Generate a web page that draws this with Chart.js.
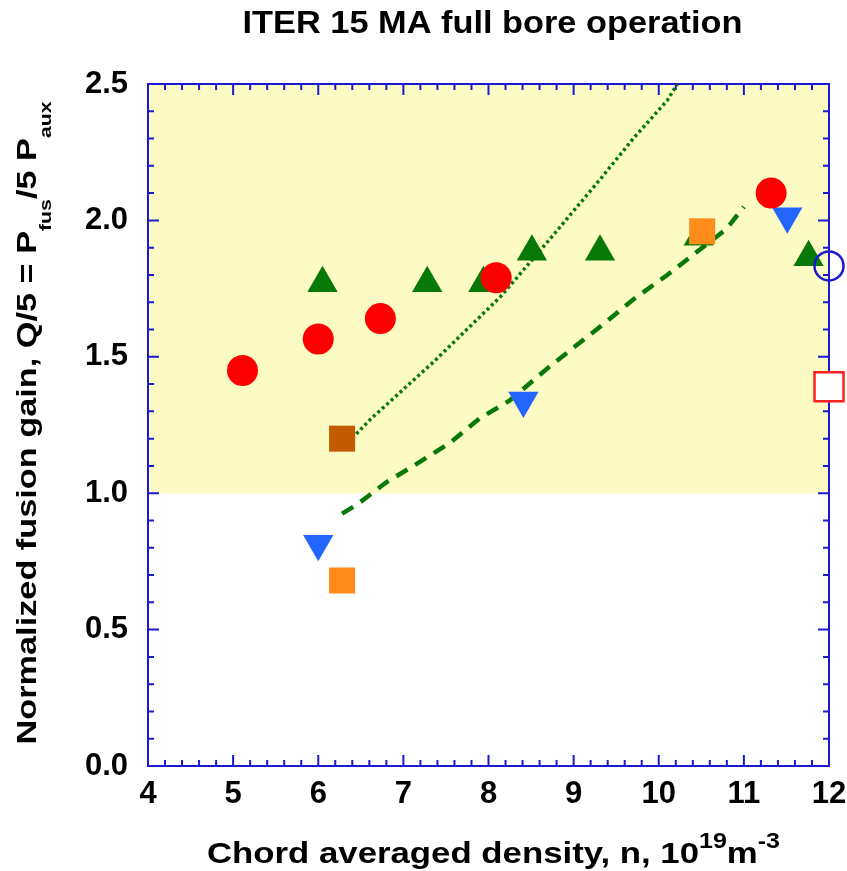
<!DOCTYPE html>
<html>
<head>
<meta charset="utf-8">
<script src="https://cdn.jsdelivr.net/npm/chart.js@4"></script>
<style>
  html, body { margin: 0; padding: 0; background: #fff; }
</style>
</head>
<body>
<canvas id="canvas" width="847" height="871"></canvas>
<script>
/* ITER 15 MA full bore - normalized fusion gain vs density */

var xTicks = [4, 5, 6, 7, 8, 9, 10, 11, 12];
var yTicks = [0, 0.5, 1, 1.5, 2, 2.5];

var redX = [5.11, 6.0, 6.73, 8.09, 11.32];
var redY = [1.45, 1.565, 1.64, 1.79, 2.10];

var greenX = [6.05, 7.28, 7.94, 8.51, 9.31, 10.47, 11.76];
var greenY = [1.77, 1.77, 1.77, 1.885, 1.885, 1.94, 1.865];

var blueX = [6.0, 8.41, 11.51];
var blueY = [0.815, 1.34, 2.015];

var orangeX = [6.28, 10.51];
var orangeY = [0.68, 1.96];

var brownX = [6.28];
var brownY = [1.2];

var openCircleX = [12.0];
var openCircleY = [1.833];

var openSquareX = [12.0];
var openSquareY = [1.39];

var dottedX = [6.3, 6.61, 7.35, 8.14, 8.69, 9.31, 9.7, 10.1, 10.22];
var dottedY = [1.17, 1.27, 1.48, 1.72, 1.92, 2.15, 2.3, 2.44, 2.5];

var dashedX = [6.28, 6.45, 6.8, 7.17, 7.55, 7.9, 8.25, 8.7, 9.31, 9.7, 10.1, 10.45, 10.8, 11.0];
var dashedY = [0.925, 0.957, 1.04, 1.11, 1.185, 1.275, 1.34, 1.46, 1.61, 1.71, 1.8, 1.885, 1.97, 2.05];

var shadeFrom = 1.0;
var shadeTo = 2.5;

var FONT = '"Liberation Sans", Arial, Helvetica, sans-serif';
var axisBlue = '#1a1ad0';
var green = '#087808';

function pts(xs, ys) {
  return xs.map(function (x, i) { return { x: x, y: ys[i] }; });
}

// draw a line of text made of runs (normal / sub / sup), centred at 0, baseline 0
function drawRuns(ctx, runs, size, targetWidth) {
  var total = 0;
  runs.forEach(function (r) {
    var s = r.s ? size * r.k : size;
    ctx.font = 'bold ' + s + 'px ' + FONT;
    r.w = ctx.measureText(r.t).width;
    total += r.w;
  });
  var stretch = targetWidth / total;
  ctx.save();
  ctx.scale(stretch, 1);
  var x = -total / 2;
  runs.forEach(function (r) {
    var s = r.s ? size * r.k : size;
    ctx.font = 'bold ' + s + 'px ' + FONT;
    var dy = 0;
    if (r.s === 'sub') dy = size * r.off;
    if (r.s === 'sup') dy = -size * r.off;
    ctx.fillText(r.t, x, dy);
    x += r.w;
  });
  ctx.restore();
}

var framePlugin = {
  id: 'frame',
  beforeDatasetsDraw: function (chart) {
    var ctx = chart.ctx;
    var xs = chart.scales.x, ys = chart.scales.y, a = chart.chartArea;
    ctx.save();
    // shaded band Q/5 > 1
    var yTop = ys.getPixelForValue(shadeTo), yBot = ys.getPixelForValue(shadeFrom);
    ctx.fillStyle = '#fdfbc4';
    ctx.fillRect(a.left, yTop, a.right - a.left, yBot - yTop);

    ctx.strokeStyle = axisBlue;
    ctx.lineWidth = 2;
    ctx.beginPath();
    var i, p, len;
    for (i = 0; i <= 40; i++) {
      p = xs.getPixelForValue(4 + i * 0.2);
      len = i % 5 === 0 ? 11 : 6;
      ctx.moveTo(p, a.bottom); ctx.lineTo(p, a.bottom - len);
      ctx.moveTo(p, a.top); ctx.lineTo(p, a.top + len);
    }
    for (i = 0; i <= 25; i++) {
      p = ys.getPixelForValue(i * 0.1);
      len = i % 5 === 0 ? 11 : 6;
      ctx.moveTo(a.left, p); ctx.lineTo(a.left + len, p);
      ctx.moveTo(a.right, p); ctx.lineTo(a.right - len, p);
    }
    ctx.stroke();
    ctx.strokeRect(a.left, a.top, a.right - a.left, a.bottom - a.top);
    ctx.restore();
  },
  afterDraw: function (chart) {
    var ctx = chart.ctx;
    var a = chart.chartArea;
    var mid = (a.left + a.right) / 2;
    ctx.save();
    ctx.fillStyle = '#000';
    ctx.textBaseline = 'alphabetic';
    ctx.textAlign = 'left';

    // title
    ctx.save();
    ctx.translate(mid + 4, 33);
    drawRuns(ctx, [{ t: 'ITER 15 MA full bore operation' }], 32, 500);
    ctx.restore();

    // x title
    ctx.save();
    ctx.translate(mid + 5, 863);
    drawRuns(ctx, [
      { t: 'Chord averaged density, n, 10' },
      { t: '19', s: 'sup', k: 0.72, off: 0.5 },
      { t: 'm' },
      { t: '-3', s: 'sup', k: 0.72, off: 0.5 }
    ], 30, 573);
    ctx.restore();

    // y title
    ctx.save();
    ctx.translate(36, 423);
    ctx.rotate(-Math.PI / 2);
    drawRuns(ctx, [
      { t: 'Normalized fusion gain, Q/5 = P' },
      { t: 'fus', s: 'sub', k: 0.62, off: 0.55 },
      { t: '/5 P' },
      { t: 'aux', s: 'sub', k: 0.62, off: 0.55 }
    ], 27, 643);
    ctx.restore();

    ctx.restore();
  }
};

var ctx = document.getElementById('canvas').getContext('2d');
var myChart = new Chart(ctx, {
  type: 'scatter',
  data: {
    datasets: [
      {
        label: 'open square',
        data: pts(openSquareX, openSquareY),
        pointStyle: 'rect',
        pointRadius: 20.5,
        backgroundColor: '#ffffff',
        borderColor: '#ff2020',
        borderWidth: 2.5,
        clip: false,
        order: 1,
      },
      {
        label: 'open circle',
        data: pts(openCircleX, openCircleY),
        pointStyle: 'circle',
        pointRadius: 14.5,
        backgroundColor: 'rgba(0,0,0,0)',
        borderColor: axisBlue,
        borderWidth: 2.5,
        clip: false,
        order: 2,
      },
      {
        label: 'orange',
        data: pts(orangeX, orangeY),
        pointStyle: 'rect',
        pointRadius: 18.4,
        backgroundColor: '#ff8c1a',
        borderWidth: 0,
        order: 3,
      },
      {
        label: 'brown',
        data: pts(brownX, brownY),
        pointStyle: 'rect',
        pointRadius: 18.4,
        backgroundColor: '#c45a00',
        borderWidth: 0,
        order: 3,
      },
      {
        label: 'red',
        data: pts(redX, redY),
        pointStyle: 'circle',
        pointRadius: 15.5,
        backgroundColor: '#ff0000',
        borderWidth: 0,
        order: 4,
      },
      {
        label: 'blue',
        data: pts(blueX, blueY),
        pointStyle: 'triangle',
        rotation: 180,
        pointRadius: 17.5,
        backgroundColor: '#2266ff',
        borderWidth: 0,
        order: 5,
      },
      {
        label: 'green',
        data: pts(greenX, greenY),
        pointStyle: 'triangle',
        pointRadius: 17.5,
        backgroundColor: green,
        borderWidth: 0,
        order: 6,
      },
      {
        label: 'dotted',
        data: pts(dottedX, dottedY),
        showLine: true,
        pointRadius: 0,
        borderColor: green,
        borderWidth: 3.5,
        borderDash: [3, 3],
        order: 8,
      },
      {
        label: 'dashed',
        data: pts(dashedX, dashedY),
        showLine: true,
        pointRadius: 0,
        borderColor: green,
        borderWidth: 4.5,
        borderDash: [13, 9],
        order: 8,
      },
    ],
  },
  options: {
    responsive: false,
    animation: false,
    events: [],
    layout: { autoPadding: false, padding: { top: 84, right: 18, left: 0, bottom: 0 } },
    plugins: {
      legend: { display: false },
      tooltip: { enabled: false },
      title: { display: false },
    },
    scales: {
      x: {
        type: 'linear',
        min: xTicks[0],
        max: xTicks[xTicks.length - 1],
        afterBuildTicks: function (scale) {
          scale.ticks = xTicks.map(function (v) { return { value: v }; });
        },
        afterFit: function (scale) {
          scale.height = 105;
          scale.paddingLeft = 0;
          scale.paddingRight = 0;
        },
        grid: { display: false, drawTicks: false },
        border: { display: false },
        ticks: {
          color: '#000',
          padding: 10,
          maxRotation: 0,
          autoSkip: false,
          font: { family: FONT, size: 31, weight: 'bold' },
        },
      },
      y: {
        type: 'linear',
        min: yTicks[0],
        max: yTicks[yTicks.length - 1],
        afterBuildTicks: function (scale) {
          scale.ticks = yTicks.map(function (v) { return { value: v }; });
        },
        afterFit: function (scale) { scale.width = 148; },
        grid: { display: false, drawTicks: false },
        border: { display: false },
        ticks: {
          color: '#000',
          padding: 20,
          autoSkip: false,
          callback: function (v) { return Number(v).toFixed(1); },
          font: { family: FONT, size: 31, weight: 'bold' },
        },
      },
    },
  },
  plugins: [framePlugin],
});
</script>
</body>
</html>
